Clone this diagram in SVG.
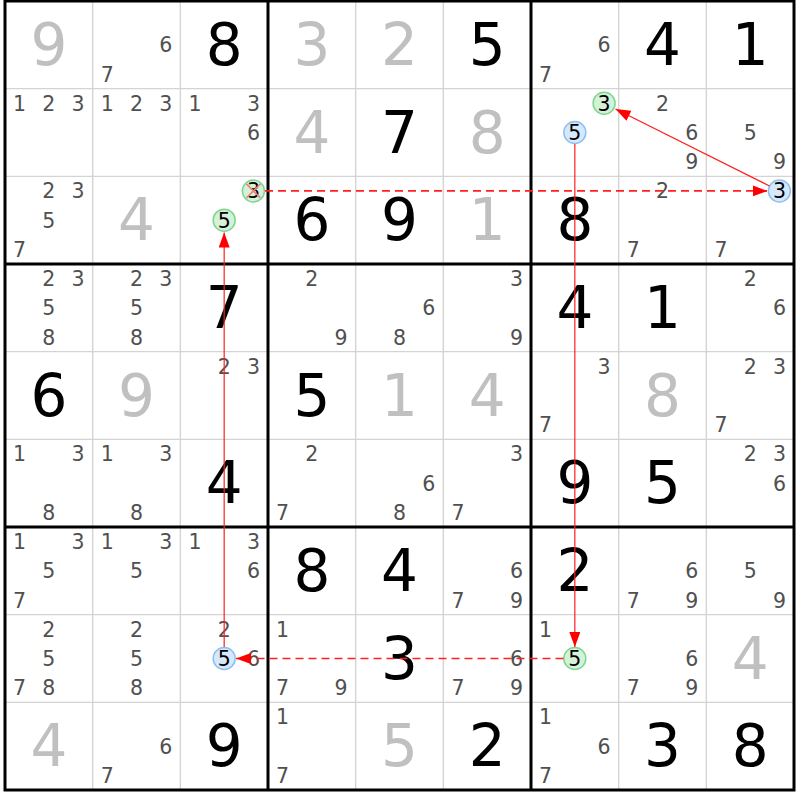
<svg xmlns="http://www.w3.org/2000/svg" width="800" height="800" viewBox="0 0 800 800">
<defs>
<style>
text{font-family:"DejaVu Sans","Liberation Sans",sans-serif;text-anchor:middle}
.g{font-size:58px;fill:#c0c0c0}
.s{font-size:58px;fill:#000}
.c{font-size:20.5px;fill:#505050}
.k{font-size:20.5px;fill:#000}
.thin{stroke:#d4d4d4;stroke-width:1.4;fill:none}
.thick{stroke:#000;stroke-width:3;fill:none}
.cg{fill:#d4f2d8;stroke:#80d690;stroke-width:1.5}
.cb{fill:#d6e8fb;stroke:#8dc0f0;stroke-width:1.5}
.x{stroke:#f08080;stroke-width:1.6}
.ln{stroke:#ff2020;stroke-width:1.2;fill:none}
.dl{stroke:#ff2020;stroke-width:1.7;fill:none;stroke-dasharray:8 5}
</style>
<marker id="ah" markerUnits="userSpaceOnUse" markerWidth="16" markerHeight="12" refX="15" refY="5.5" orient="auto">
<path d="M0,0 L15,5.5 L0,11 z" fill="#ff0000"/>
</marker>
</defs>
<rect x="0" y="0" width="800" height="800" fill="#fff"/>
<g id="grid">
<path class="thin" d="M92.67,1V790M180.33,1V790M355.67,1V790M443.33,1V790M618.67,1V790M706.33,1V790M5,88.67H794M5,176.33H794M5,351.67H794M5,439.33H794M5,614.67H794M5,702.33H794"/>
<path class="thick" d="M268,1V790M531,1V790M5,264H794M5,527H794"/>
<rect class="thick" x="5" y="1" width="789" height="789"/>
</g>
<g id="cells">
<g id="r0c0"><text class="g" x="48.83" y="65">9</text></g>
<g id="r0c1"><text class="c" x="165.7" y="52.3">6</text><text class="c" x="107.3" y="81.5">7</text></g>
<g id="r0c2"><text class="s" x="224.17" y="65">8</text></g>
<g id="r0c3"><text class="g" x="311.83" y="65">3</text></g>
<g id="r0c4"><text class="g" x="399.5" y="65">2</text></g>
<g id="r0c5"><text class="s" x="487.17" y="65">5</text></g>
<g id="r0c6"><text class="c" x="604.1" y="52.3">6</text><text class="c" x="545.6" y="81.5">7</text></g>
<g id="r0c7"><text class="s" x="662.5" y="65">4</text></g>
<g id="r0c8"><text class="s" x="750.17" y="65">1</text></g>

<g id="r1c0"><text class="c" x="19.6" y="110.8">1</text><text class="c" x="48.8" y="110.8">2</text><text class="c" x="78.1" y="110.8">3</text></g>
<g id="r1c1"><text class="c" x="107.3" y="110.8">1</text><text class="c" x="136.5" y="110.8">2</text><text class="c" x="165.7" y="110.8">3</text></g>
<g id="r1c2"><text class="c" x="194.9" y="110.8">1</text><text class="c" x="253.4" y="110.8">3</text><text class="c" x="253.4" y="140">6</text></g>
<g id="r1c3"><text class="g" x="311.83" y="152.67">4</text></g>
<g id="r1c4"><text class="s" x="399.5" y="152.67">7</text></g>
<g id="r1c5"><text class="g" x="487.17" y="152.67">8</text></g>
<g id="r1c6"><circle class="cg" cx="604.1" cy="103.28" r="11"/><text class="k" x="604.1" y="110.8">3</text><circle class="cb" cx="574.83" cy="132.5" r="11"/><text class="k" x="574.83" y="140">5</text></g>
<g id="r1c7"><text class="c" x="662.5" y="110.8">2</text><text class="c" x="691.7" y="140">6</text><text class="c" x="691.7" y="169.2">9</text></g>
<g id="r1c8"><text class="c" x="750.2" y="140">5</text><text class="c" x="779.4" y="169.2">9</text></g>

<g id="r2c0"><text class="c" x="48.8" y="198.4">2</text><text class="c" x="78.1" y="198.4">3</text><text class="c" x="48.8" y="227.6">5</text><text class="c" x="19.6" y="256.9">7</text></g>
<g id="r2c1"><text class="g" x="136.5" y="240.33">4</text></g>
<g id="r2c2"><circle class="cg" cx="253.4" cy="190.94" r="11"/><text class="k" x="253.4" y="198.4">3</text><path class="x" d="M246.4,183.94L260.4,197.94M260.4,183.94L246.4,197.94"/><circle class="cg" cx="224.17" cy="220.17" r="11"/><text class="k" x="224.17" y="227.6">5</text></g>
<g id="r2c3"><text class="s" x="311.83" y="240.33">6</text></g>
<g id="r2c4"><text class="s" x="399.5" y="240.33">9</text></g>
<g id="r2c5"><text class="g" x="487.17" y="240.33">1</text></g>
<g id="r2c6"><text class="s" x="574.83" y="240.33">8</text></g>
<g id="r2c7"><text class="c" x="662.5" y="198.4">2</text><text class="c" x="633.3" y="256.9">7</text></g>
<g id="r2c8"><circle class="cb" cx="779.4" cy="190.94" r="11"/><text class="k" x="779.4" y="198.4">3</text><text class="c" x="720.9" y="256.9">7</text></g>

<g id="r3c0"><text class="c" x="48.8" y="286.1">2</text><text class="c" x="78.1" y="286.1">3</text><text class="c" x="48.8" y="315.3">5</text><text class="c" x="48.8" y="344.5">8</text></g>
<g id="r3c1"><text class="c" x="136.5" y="286.1">2</text><text class="c" x="165.7" y="286.1">3</text><text class="c" x="136.5" y="315.3">5</text><text class="c" x="136.5" y="344.5">8</text></g>
<g id="r3c2"><text class="s" x="224.17" y="328">7</text></g>
<g id="r3c3"><text class="c" x="311.8" y="286.1">2</text><text class="c" x="341.1" y="344.5">9</text></g>
<g id="r3c4"><text class="c" x="428.7" y="315.3">6</text><text class="c" x="399.5" y="344.5">8</text></g>
<g id="r3c5"><text class="c" x="516.4" y="286.1">3</text><text class="c" x="516.4" y="344.5">9</text></g>
<g id="r3c6"><text class="s" x="574.83" y="328">4</text></g>
<g id="r3c7"><text class="s" x="662.5" y="328">1</text></g>
<g id="r3c8"><text class="c" x="750.2" y="286.1">2</text><text class="c" x="779.4" y="315.3">6</text></g>

<g id="r4c0"><text class="s" x="48.83" y="415.67">6</text></g>
<g id="r4c1"><text class="g" x="136.5" y="415.67">9</text></g>
<g id="r4c2"><text class="c" x="224.2" y="373.8">2</text><text class="c" x="253.4" y="373.8">3</text></g>
<g id="r4c3"><text class="s" x="311.83" y="415.67">5</text></g>
<g id="r4c4"><text class="g" x="399.5" y="415.67">1</text></g>
<g id="r4c5"><text class="g" x="487.17" y="415.67">4</text></g>
<g id="r4c6"><text class="c" x="604.1" y="373.8">3</text><text class="c" x="545.6" y="432.2">7</text></g>
<g id="r4c7"><text class="g" x="662.5" y="415.67">8</text></g>
<g id="r4c8"><text class="c" x="750.2" y="373.8">2</text><text class="c" x="779.4" y="373.8">3</text><text class="c" x="720.9" y="432.2">7</text></g>

<g id="r5c0"><text class="c" x="19.6" y="461.4">1</text><text class="c" x="78.1" y="461.4">3</text><text class="c" x="48.8" y="519.9">8</text></g>
<g id="r5c1"><text class="c" x="107.3" y="461.4">1</text><text class="c" x="165.7" y="461.4">3</text><text class="c" x="136.5" y="519.9">8</text></g>
<g id="r5c2"><text class="s" x="224.17" y="503.33">4</text></g>
<g id="r5c3"><text class="c" x="311.8" y="461.4">2</text><text class="c" x="282.6" y="519.9">7</text></g>
<g id="r5c4"><text class="c" x="428.7" y="490.6">6</text><text class="c" x="399.5" y="519.9">8</text></g>
<g id="r5c5"><text class="c" x="516.4" y="461.4">3</text><text class="c" x="457.9" y="519.9">7</text></g>
<g id="r5c6"><text class="s" x="574.83" y="503.33">9</text></g>
<g id="r5c7"><text class="s" x="662.5" y="503.33">5</text></g>
<g id="r5c8"><text class="c" x="750.2" y="461.4">2</text><text class="c" x="779.4" y="461.4">3</text><text class="c" x="779.4" y="490.6">6</text></g>

<g id="r6c0"><text class="c" x="19.6" y="549.1">1</text><text class="c" x="78.1" y="549.1">3</text><text class="c" x="48.8" y="578.3">5</text><text class="c" x="19.6" y="607.5">7</text></g>
<g id="r6c1"><text class="c" x="107.3" y="549.1">1</text><text class="c" x="165.7" y="549.1">3</text><text class="c" x="136.5" y="578.3">5</text></g>
<g id="r6c2"><text class="c" x="194.9" y="549.1">1</text><text class="c" x="253.4" y="549.1">3</text><text class="c" x="253.4" y="578.3">6</text></g>
<g id="r6c3"><text class="s" x="311.83" y="591">8</text></g>
<g id="r6c4"><text class="s" x="399.5" y="591">4</text></g>
<g id="r6c5"><text class="c" x="516.4" y="578.3">6</text><text class="c" x="457.9" y="607.5">7</text><text class="c" x="516.4" y="607.5">9</text></g>
<g id="r6c6"><text class="s" x="574.83" y="591">2</text></g>
<g id="r6c7"><text class="c" x="691.7" y="578.3">6</text><text class="c" x="633.3" y="607.5">7</text><text class="c" x="691.7" y="607.5">9</text></g>
<g id="r6c8"><text class="c" x="750.2" y="578.3">5</text><text class="c" x="779.4" y="607.5">9</text></g>

<g id="r7c0"><text class="c" x="48.8" y="636.8">2</text><text class="c" x="48.8" y="666">5</text><text class="c" x="19.6" y="695.2">7</text><text class="c" x="48.8" y="695.2">8</text></g>
<g id="r7c1"><text class="c" x="136.5" y="636.8">2</text><text class="c" x="136.5" y="666">5</text><text class="c" x="136.5" y="695.2">8</text></g>
<g id="r7c2"><text class="c" x="224.2" y="636.8">2</text><circle class="cb" cx="224.17" cy="658.5" r="11"/><text class="k" x="224.17" y="666">5</text><text class="c" x="253.4" y="666">6</text></g>
<g id="r7c3"><text class="c" x="282.6" y="636.8">1</text><text class="c" x="282.6" y="695.2">7</text><text class="c" x="341.1" y="695.2">9</text></g>
<g id="r7c4"><text class="s" x="399.5" y="678.67">3</text></g>
<g id="r7c5"><text class="c" x="516.4" y="666">6</text><text class="c" x="457.9" y="695.2">7</text><text class="c" x="516.4" y="695.2">9</text></g>
<g id="r7c6"><text class="c" x="545.6" y="636.8">1</text><circle class="cg" cx="574.83" cy="658.5" r="11"/><text class="k" x="574.83" y="666">5</text></g>
<g id="r7c7"><text class="c" x="691.7" y="666">6</text><text class="c" x="633.3" y="695.2">7</text><text class="c" x="691.7" y="695.2">9</text></g>
<g id="r7c8"><text class="g" x="750.17" y="678.67">4</text></g>

<g id="r8c0"><text class="g" x="48.83" y="766.33">4</text></g>
<g id="r8c1"><text class="c" x="165.7" y="753.6">6</text><text class="c" x="107.3" y="782.9">7</text></g>
<g id="r8c2"><text class="s" x="224.17" y="766.33">9</text></g>
<g id="r8c3"><text class="c" x="282.6" y="724.4">1</text><text class="c" x="282.6" y="782.9">7</text></g>
<g id="r8c4"><text class="g" x="399.5" y="766.33">5</text></g>
<g id="r8c5"><text class="s" x="487.17" y="766.33">2</text></g>
<g id="r8c6"><text class="c" x="545.6" y="724.4">1</text><text class="c" x="604.1" y="753.6">6</text><text class="c" x="545.6" y="782.9">7</text></g>
<g id="r8c7"><text class="s" x="662.5" y="766.33">3</text></g>
<g id="r8c8"><text class="s" x="750.17" y="766.33">8</text></g>
</g>
<g id="connectors">
<line class="ln" x1="224.17" y1="647" x2="224.17" y2="232.5" marker-end="url(#ah)"/>
<line class="dl" x1="265" y1="190.94" x2="767.5" y2="190.94" marker-end="url(#ah)"/>
<line class="ln" x1="769.5" y1="186" x2="615.5" y2="109" marker-end="url(#ah)"/>
<line class="ln" x1="574.83" y1="144" x2="574.83" y2="647" marker-end="url(#ah)"/>
<line class="dl" x1="563.5" y1="658.5" x2="236" y2="658.5" marker-end="url(#ah)"/>
</g>
</svg>
